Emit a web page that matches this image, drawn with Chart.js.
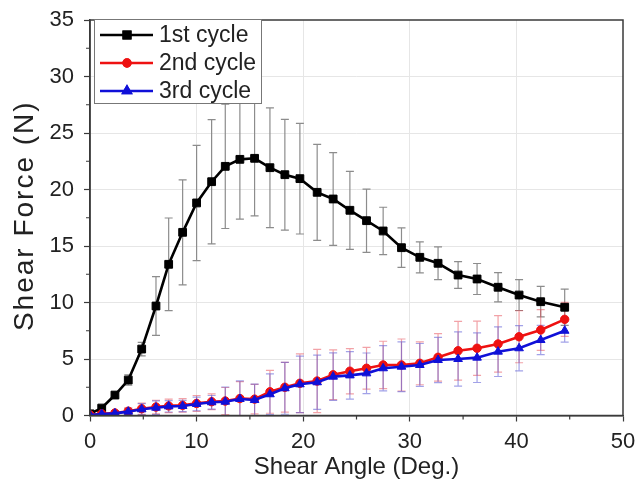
<!DOCTYPE html>
<html>
<head>
<meta charset="utf-8">
<script src="https://cdn.jsdelivr.net/npm/chart.js@4.4.1/dist/chart.umd.min.js"></script>
<style>
  html, body { margin: 0; padding: 0; background: #fff; }
  #wrap { width: 637px; height: 493px; }
</style>
</head>
<body>
<div id="wrap"><canvas id="chart_1" width="637" height="493"></canvas></div>
<script>
// shear angle (deg.) of each sample, same for all cycles
const shear_angle = [0, 1.1, 2.34, 3.59, 4.85, 6.19, 7.38, 8.69, 10.0, 11.41,
  12.69, 14.06, 15.44, 16.88, 18.28, 19.69, 21.31, 22.81, 24.38, 25.94,
  27.5, 29.22, 30.94, 32.65, 34.53, 36.31, 38.28, 40.25, 42.28, 44.53];

const cycle_1 = [0.15, 0.66, 1.81, 3.14, 5.88, 9.69, 13.38, 16.21, 18.81, 20.69,
  22.05, 22.67, 22.76, 21.93, 21.31, 20.96, 19.75, 19.16, 18.16, 17.24,
  16.33, 14.85, 14.0, 13.47, 12.43, 12.08, 11.35, 10.66, 10.07, 9.58];
const cycle_1_err = [0.1, 0.2, 0.3, 0.45, 0.6, 2.6, 4.1, 4.65, 5.1, 5.5,
  5.5, 5.3, 5.1, 5.3, 4.9, 4.9, 4.25, 4.1, 3.45, 2.8,
  2.1, 1.75, 1.37, 1.45, 1.18, 1.37, 1.3, 1.37, 1.35, 1.6];

const cycle_2 = [0.05, 0.15, 0.22, 0.38, 0.6, 0.75, 0.85, 0.9, 1.07, 1.22,
  1.28, 1.5, 1.45, 2.1, 2.5, 2.85, 3.05, 3.6, 3.92, 4.18,
  4.47, 4.47, 4.62, 5.15, 5.73, 5.95, 6.33, 6.97, 7.57, 8.51];
const cycle_2_err = [0.1, 0.15, 0.2, 0.3, 0.5, 0.6, 0.6, 0.6, 0.7, 0.7,
  1.2, 1.5, 1.3, 1.9, 2.2, 2.6, 2.8, 2.2, 2.0, 1.85,
  2.1, 2.3, 1.9, 2.1, 2.6, 2.4, 2.5, 2.3, 1.8, 1.5];

const cycle_3 = [0.04, 0.13, 0.19, 0.34, 0.55, 0.69, 0.81, 0.84, 1.02, 1.17,
  1.22, 1.46, 1.37, 1.88, 2.41, 2.76, 2.94, 3.44, 3.55, 3.73,
  4.18, 4.32, 4.47, 4.91, 5.0, 5.12, 5.65, 5.95, 6.68, 7.5];
const cycle_3_err = [0.1, 0.15, 0.2, 0.3, 0.5, 0.6, 0.5, 0.5, 0.6, 0.6,
  1.3, 1.6, 1.4, 1.8, 2.3, 2.5, 2.4, 2.1, 2.1, 1.8,
  2.0, 2.2, 1.9, 2.0, 2.4, 2.2, 2.2, 2.0, 1.3, 1.0];

const series_labels = ["1st cycle", "2nd cycle", "3rd cycle"];
const x_ticks = [0, 10, 20, 30, 40, 50];
const y_ticks = [0, 5, 10, 15, 20, 25, 30, 35];
const y_title = "Shear Force (N)";

const font_family = "'Liberation Sans', Arial, sans-serif";
const axis_color = "#3a3a3a";

function to_points(ys) {
  return ys.map((y, i) => ({x: shear_angle[i], y: y}));
}

// vertical error bars with caps, drawn through the chart scales
const error_bars = {
  id: "error_bars",
  beforeDatasetsDraw(chart) {
    const ctx = chart.ctx;
    const area = chart.chartArea;
    const xs = chart.scales.x, ys = chart.scales.y;
    ctx.save();
    ctx.beginPath();
    ctx.rect(area.left, area.top, area.right - area.left, area.bottom - area.top);
    ctx.clip();
    chart.data.datasets.forEach(ds => {
      ctx.strokeStyle = ds.err_color;
      ctx.lineWidth = 1.2;
      ds.data.forEach((p, i) => {
        const e = ds.err[i];
        const px = xs.getPixelForValue(p.x);
        const top = ys.getPixelForValue(p.y + e);
        const bot = ys.getPixelForValue(p.y - e);
        ctx.beginPath();
        ctx.moveTo(px, top); ctx.lineTo(px, bot);
        ctx.moveTo(px - 4, top); ctx.lineTo(px + 4, top);
        ctx.moveTo(px - 4, bot); ctx.lineTo(px + 4, bot);
        ctx.stroke();
      });
    });
    ctx.restore();
  }
};

// box frame, minor ticks, y title and the legend inside the plot
const frame_and_legend = {
  id: "frame_and_legend",
  afterDraw(chart) {
    const ctx = chart.ctx;
    const a = chart.chartArea;
    const xs = chart.scales.x, ys = chart.scales.y;
    ctx.save();
    ctx.strokeStyle = axis_color;
    ctx.lineWidth = 1.5;
    ctx.strokeRect(a.left, a.top, a.right - a.left, a.bottom - a.top);

    ctx.lineWidth = 1.2;
    ctx.beginPath();
    for (let v = 5; v < 50; v += 10) {
      const px = xs.getPixelForValue(v);
      ctx.moveTo(px, a.bottom); ctx.lineTo(px, a.bottom + 4);
    }
    for (let v = 2.5; v < 35; v += 5) {
      const py = ys.getPixelForValue(v);
      ctx.moveTo(a.left, py); ctx.lineTo(a.left - 4, py);
    }
    ctx.stroke();

    // y axis title, a bit wider spaced than the canvas default
    ctx.save();
    ctx.translate(25, (a.top + a.bottom) / 2 - 2);
    ctx.rotate(-Math.PI / 2);
    ctx.font = "28px " + font_family;
    if ("letterSpacing" in ctx) ctx.letterSpacing = "2px";
    ctx.fillStyle = "#222";
    ctx.textAlign = "center";
    ctx.textBaseline = "middle";
    ctx.fillText(y_title, 0, 0);
    ctx.restore();

    // legend box
    const lx = 94, ly = 19, lw = 167, lh = 84;
    ctx.fillStyle = "#fff";
    ctx.fillRect(lx, ly, lw, lh);
    ctx.strokeStyle = "#777";
    ctx.lineWidth = 1;
    ctx.strokeRect(lx + 0.5, ly + 0.5, lw, lh);

    ctx.font = "23px " + font_family;
    ctx.textBaseline = "middle";
    chart.data.datasets.forEach((ds, i) => {
      const row_y = 35 + i * 28;
      ctx.strokeStyle = ds.borderColor;
      ctx.lineWidth = 2.5;
      ctx.beginPath();
      ctx.moveTo(100, row_y); ctx.lineTo(153, row_y);
      ctx.stroke();
      Chart.helpers.drawPoint(ctx, {
        pointStyle: ds.pointStyle, radius: ds.pointRadius - 0.8,
        borderWidth: 1
      }, 127, row_y);
      ctx.fillStyle = ds.backgroundColor;
      ctx.strokeStyle = ds.borderColor;
      ctx.fill();
      ctx.stroke();
      ctx.fillStyle = "#222";
      ctx.fillText(ds.label, 159, row_y + 1);
    });
    ctx.restore();
  }
};

const ctx = document.getElementById("chart_1").getContext("2d");
const chart = new Chart(ctx, {
  type: "scatter",
  data: {
    datasets: [
      {
        label: series_labels[0], data: to_points(cycle_1), err: cycle_1_err,
        err_color: "#8c8c8c", showLine: true, order: 2,
        borderColor: "#000", backgroundColor: "#000", borderWidth: 2.6,
        pointStyle: "rect", pointRadius: 5.5, pointBorderWidth: 1
      },
      {
        label: series_labels[1], data: to_points(cycle_2), err: cycle_2_err,
        err_color: "rgba(230,70,80,0.5)", showLine: true, order: 1,
        borderColor: "#ee1111", backgroundColor: "#ee1111", borderWidth: 2.6,
        pointStyle: "circle", pointRadius: 4.2, pointBorderWidth: 1
      },
      {
        label: series_labels[2], data: to_points(cycle_3), err: cycle_3_err,
        err_color: "rgba(70,70,210,0.5)", showLine: true, order: 0,
        borderColor: "#1010d8", backgroundColor: "#1010d8", borderWidth: 2.6,
        pointStyle: "triangle", pointRadius: 5, pointBorderWidth: 1
      }
    ]
  },
  options: {
    responsive: false,
    animation: false,
    layout: { padding: { top: 20, right: 14, left: 0, bottom: 0 } },
    plugins: { legend: { display: false }, tooltip: { enabled: false } },
    elements: { line: { tension: 0 } },
    scales: {
      x: {
        type: "linear", min: 0, max: 50,
        afterFit: s => { s.height = 77.5; s.paddingLeft = 0; s.paddingRight = 0; },
        afterBuildTicks: s => { s.ticks = x_ticks.map(v => ({value: v})); },
        ticks: { font: { size: 22, family: font_family }, color: "#222", padding: 7 },
        grid: {
          color: c => (c.tick && (c.tick.value === 0 || c.tick.value === 50)) ? "rgba(0,0,0,0)" : "#e6e6e6",
          tickColor: axis_color, tickLength: 6, tickWidth: 1.2
        },
        border: { color: axis_color, width: 1.5 },
        title: {
          display: true, text: "Shear Angle (Deg.)", color: "#222",
          font: { size: 24, family: font_family }, padding: { top: 0, bottom: 11 }
        }
      },
      y: {
        type: "linear", min: 0, max: 35,
        afterFit: s => { s.width = 90; s.paddingTop = 0; s.paddingBottom = 0; },
        afterBuildTicks: s => { s.ticks = y_ticks.map(v => ({value: v})); },
        ticks: { font: { size: 22, family: font_family }, color: "#222", padding: 10 },
        grid: {
          color: c => (c.tick && (c.tick.value === 0 || c.tick.value === 35)) ? "rgba(0,0,0,0)" : "#e6e6e6",
          tickColor: axis_color, tickLength: 6, tickWidth: 1.2
        },
        border: { color: axis_color, width: 1.5 },
        title: { display: false }
      }
    }
  },
  plugins: [error_bars, frame_and_legend]
});
</script>
</body>
</html>
